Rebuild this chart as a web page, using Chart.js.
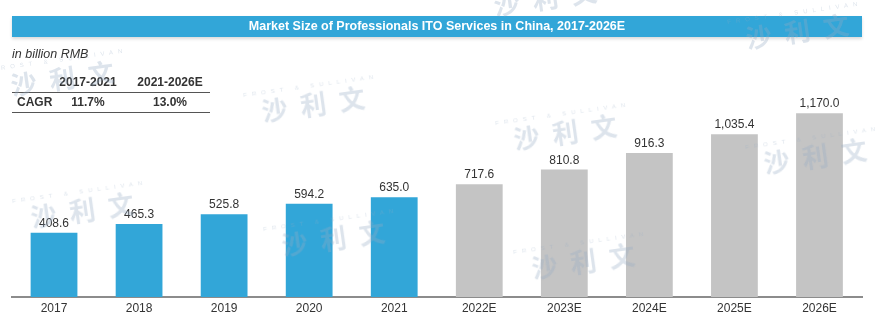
<!DOCTYPE html>
<html>
<head>
<meta charset="utf-8">
<script src="https://cdn.jsdelivr.net/npm/chart.js@4/dist/chart.umd.min.js"></script>
<style>
    html, body { margin: 0; padding: 0; background: #fff; }
    body { width: 875px; height: 324px; position: relative; overflow: hidden; font-family: 'Liberation Sans', Arial, sans-serif; color: #333; }
    #chart { position: absolute; left: 0; top: 0; }
    .title-bar {
        position: absolute; left: 12px; top: 16px; width: 850px; height: 21px;
        background: #32a6d8; color: #fff; font-weight: bold; font-size: 12.5px;
        line-height: 21px; text-align: center; box-shadow: 0 2px 3px rgba(0,0,0,0.15);
    }
    .unit { position: absolute; left: 12px; top: 47px; font-size: 12.5px; font-style: italic; color: #333; }
    .cagr { position: absolute; left: 12px; top: 73px; width: 198px; font-size: 12px; font-weight: bold; color: #333; }
    .cagr .row { position: relative; height: 19px; }
    .cagr .head { border-bottom: 1.5px solid #555; }
    .cagr .body { border-bottom: 1.5px solid #555; }
    .cagr span { position: absolute; top: 2px; transform: translateX(-50%); white-space: nowrap; }
    .cagr .lbl { left: 5px; transform: none; }
    .wm {
        position: absolute; transform: translate(-50%, -50%) rotate(-8deg);
        text-align: center; white-space: nowrap; pointer-events: none; color: rgba(150, 170, 195, 0.32);
    }
    .wm .en { font-size: 6px; letter-spacing: 5px; margin-bottom: -4px; }
    .wm .zh { font-family: 'Noto Sans CJK SC', sans-serif; font-size: 26px; font-weight: bold; letter-spacing: 13px; padding-left: 13px; }
</style>
</head>
<body>
<canvas id="chart" width="875" height="324"></canvas>
<div class="title-bar" id="title"></div>
<div class="unit" id="unit"></div>
<div class="cagr" id="cagr"></div>
<div id="marks"></div>

<script>
    // Market size, billion RMB ("E" = estimate)
    const years = ['2017', '2018', '2019', '2020', '2021', '2022E', '2023E', '2024E', '2025E', '2026E'];
    const marketSize = [408.6, 465.3, 525.8, 594.2, 635.0, 717.6, 810.8, 916.3, 1035.4, 1170.0];

    const cagrPeriods = ['2017-2021', '2021-2026E'];
    const cagrValues = ['11.7%', '13.0%'];

    const titleText = 'Market Size of Professionals ITO Services in China, 2017-2026E';
    const unitText = 'in billion RMB';

    const ACTUAL = '#32a6d8';
    const FORECAST = '#c4c4c4';

    document.getElementById('title').textContent = titleText;
    document.getElementById('unit').textContent = unitText;

    // CAGR table, columns centred over their values
    const colX = [76, 158];
    const cagr = document.getElementById('cagr');
    cagr.innerHTML =
        '<div class="row head">' + cagrPeriods.map((p, i) => `<span style="left:${colX[i]}px">${p}</span>`).join('') + '</div>' +
        '<div class="row body"><span class="lbl">CAGR</span>' +
        cagrValues.map((v, i) => `<span style="left:${colX[i]}px">${v}</span>`).join('') + '</div>';

    // faint brand watermarks
    const markSpots = [[62, 76], [313, 102], [565, 130], [815, 154], [82, 208], [333, 236], [583, 259], [545, -4], [797, 29]];
    document.getElementById('marks').innerHTML = markSpots
        .map(([x, y]) => `<div class="wm" style="left:${x}px;top:${y}px"><div class="en">FROST &amp; SULLIVAN</div><div class="zh">沙利文</div></div>`)
        .join('');

    const fmt = v => v.toLocaleString('en-US', { minimumFractionDigits: 1, maximumFractionDigits: 1 });

    const valueLabels = {
        id: 'valueLabels',
        afterDatasetsDraw(chart) {
            const ctx = chart.ctx;
            const meta = chart.getDatasetMeta(0);
            ctx.save();
            ctx.font = '12px "Liberation Sans", Arial, sans-serif';
            ctx.fillStyle = '#333';
            ctx.textAlign = 'center';
            ctx.textBaseline = 'alphabetic';
            meta.data.forEach((bar, i) => {
                ctx.fillText(fmt(marketSize[i]), bar.x, bar.y - 6);
            });
            ctx.restore();
        }
    };

    new Chart(document.getElementById('chart'), {
        type: 'bar',
        data: {
            labels: years,
            datasets: [{
                data: marketSize,
                backgroundColor: years.map(y => y.endsWith('E') ? FORECAST : ACTUAL),
                barPercentage: 0.55,
                categoryPercentage: 1
            }]
        },
        options: {
            responsive: false,
            animation: false,
            devicePixelRatio: 1,
            layout: { padding: { left: 11.5, right: 13, top: 77, bottom: 4.6 } },
            plugins: { legend: { display: false }, tooltip: { enabled: false } },
            scales: {
                x: {
                    grid: { display: false, drawTicks: false },
                    border: { display: true, color: '#8c8c8c', width: 2 },
                    ticks: { color: '#333', padding: 4, font: { family: '"Liberation Sans", Arial, sans-serif', size: 12 } }
                },
                y: { display: false, min: 0, max: 1400 }
            }
        },
        plugins: [valueLabels]
    });
</script>
</body>
</html>
